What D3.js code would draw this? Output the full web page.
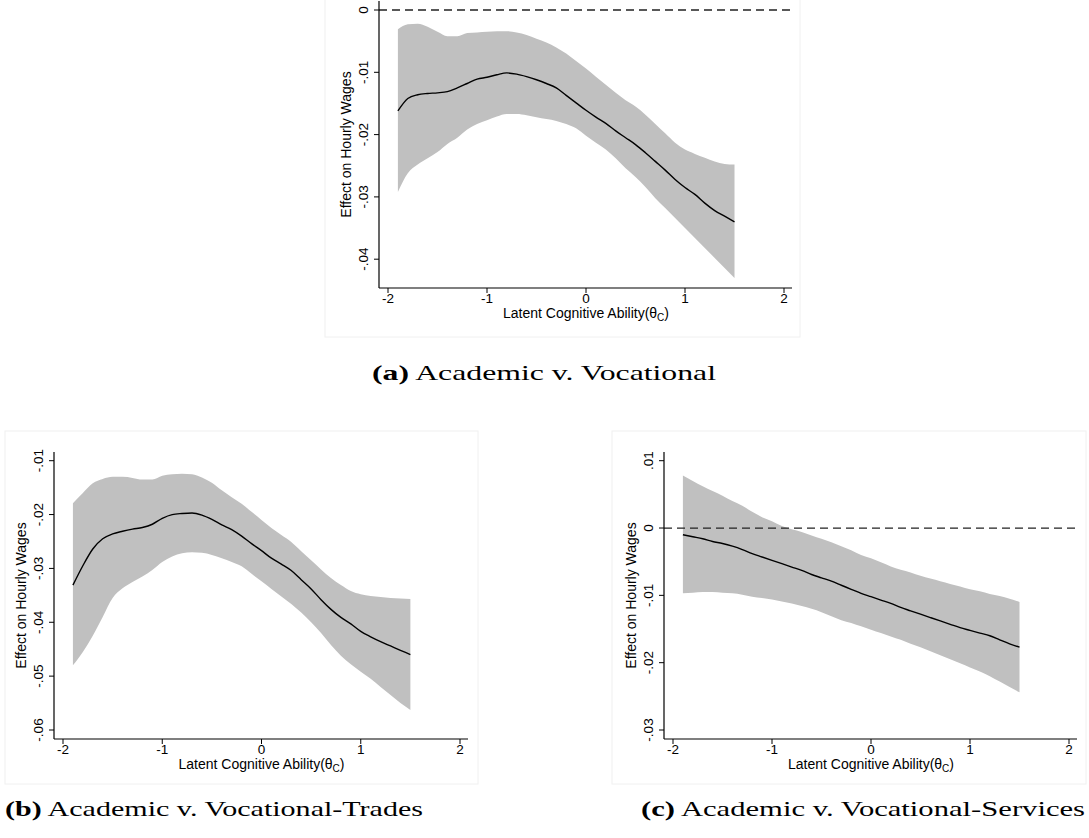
<!DOCTYPE html>
<html>
<head>
<meta charset="utf-8">
<script src="https://cdn.jsdelivr.net/npm/d3@7"></script>
<style>
  html, body { margin: 0; padding: 0; background: #fff; }
  svg { display: block; }
  .tick-label, .axis-title { font-family: "Liberation Sans", Arial, sans-serif; fill: #000; }
  .caption { font-family: "Liberation Serif", "DejaVu Serif", serif; fill: #000; }
</style>
</head>
<body>
<svg id="fig" width="1089" height="838"></svg>
<script>
// Ability grid shared by all three panels
const theta = [-1.9,-1.8,-1.7,-1.6,-1.5,-1.4,-1.3,-1.2,-1.1,-1.0,-0.9,-0.8,-0.7,-0.6,-0.5,-0.4,-0.3,-0.2,-0.1,
  0.0,0.1,0.2,0.3,0.4,0.5,0.6,0.7,0.8,0.9,1.0,1.1,1.2,1.3,1.4,1.5];

// (a) Academic v. Vocational
const effectA = [-0.0162,-0.0142,-0.0136,-0.0134,-0.0133,-0.0131,-0.0125,-0.0118,-0.0111,-0.0108,-0.0104,-0.0101,-0.0103,-0.0107,-0.0112,-0.0118,-0.0125,-0.0137,-0.0149,
  -0.0161,-0.0172,-0.0182,-0.0194,-0.0205,-0.0216,-0.0229,-0.0243,-0.0257,-0.0272,-0.0285,-0.0296,-0.0310,-0.0322,-0.0331,-0.0340];
const lowerA = [-0.0292,-0.0262,-0.0248,-0.0238,-0.0228,-0.0215,-0.0205,-0.0192,-0.0183,-0.0177,-0.0171,-0.0167,-0.0167,-0.0169,-0.0172,-0.0175,-0.0178,-0.0183,-0.0190,
  -0.0202,-0.0213,-0.0224,-0.0238,-0.0254,-0.0268,-0.0284,-0.0302,-0.0318,-0.0334,-0.0350,-0.0366,-0.0382,-0.0398,-0.0414,-0.0430];
const upperA = [-0.0031,-0.0023,-0.0022,-0.0027,-0.0035,-0.0042,-0.0042,-0.0037,-0.0036,-0.0035,-0.0034,-0.0034,-0.0036,-0.0040,-0.0046,-0.0052,-0.0060,-0.0070,-0.0082,
  -0.0094,-0.0107,-0.0120,-0.0133,-0.0145,-0.0155,-0.0168,-0.0183,-0.0198,-0.0213,-0.0224,-0.0231,-0.0237,-0.0243,-0.0247,-0.0248];

// (b) Academic v. Vocational-Trades
const effectB = [-0.0331,-0.0295,-0.0264,-0.0245,-0.0236,-0.0231,-0.0227,-0.0224,-0.0218,-0.0207,-0.0200,-0.0198,-0.0197,-0.0201,-0.0209,-0.0219,-0.0228,-0.0240,-0.0254,
  -0.0267,-0.0281,-0.0292,-0.0304,-0.0321,-0.0338,-0.0358,-0.0376,-0.0391,-0.0403,-0.0417,-0.0427,-0.0436,-0.0444,-0.0452,-0.0460];
const lowerB = [-0.0480,-0.0455,-0.0425,-0.0390,-0.0355,-0.0337,-0.0325,-0.0315,-0.0303,-0.0288,-0.0278,-0.0272,-0.0270,-0.0271,-0.0275,-0.0281,-0.0288,-0.0296,-0.0310,
  -0.0324,-0.0338,-0.0352,-0.0366,-0.0382,-0.0400,-0.0420,-0.0442,-0.0462,-0.0478,-0.0492,-0.0505,-0.0520,-0.0535,-0.0550,-0.0563];
const upperB = [-0.0179,-0.0160,-0.0142,-0.0134,-0.0130,-0.0130,-0.0132,-0.0135,-0.0135,-0.0128,-0.0125,-0.0124,-0.0125,-0.0131,-0.0141,-0.0155,-0.0168,-0.0180,-0.0195,
  -0.0210,-0.0225,-0.0238,-0.0251,-0.0268,-0.0285,-0.0302,-0.0318,-0.0331,-0.0342,-0.0348,-0.0351,-0.0353,-0.0355,-0.0356,-0.0357];

// (c) Academic v. Vocational-Services
const effectC = [-0.0010,-0.0013,-0.0016,-0.0020,-0.0023,-0.0027,-0.0032,-0.0038,-0.0043,-0.0048,-0.0053,-0.0058,-0.0063,-0.0069,-0.0074,-0.0079,-0.0085,-0.0091,-0.0097,
  -0.0102,-0.0107,-0.0112,-0.0118,-0.0123,-0.0128,-0.0133,-0.0138,-0.0143,-0.0148,-0.0152,-0.0156,-0.0160,-0.0166,-0.0172,-0.0177];
const lowerC = [-0.0097,-0.0096,-0.0095,-0.0095,-0.0096,-0.0097,-0.0099,-0.0102,-0.0104,-0.0106,-0.0109,-0.0112,-0.0116,-0.0120,-0.0125,-0.0131,-0.0137,-0.0141,-0.0146,
  -0.0151,-0.0156,-0.0161,-0.0166,-0.0172,-0.0177,-0.0183,-0.0189,-0.0195,-0.0201,-0.0207,-0.0213,-0.0220,-0.0228,-0.0236,-0.0244];
const upperC = [0.0078,0.0070,0.0062,0.0055,0.0048,0.0040,0.0033,0.0024,0.0016,0.0010,0.0003,-0.0002,-0.0006,-0.0011,-0.0016,-0.0021,-0.0027,-0.0033,-0.0040,
  -0.0045,-0.0051,-0.0057,-0.0062,-0.0066,-0.0071,-0.0075,-0.0079,-0.0083,-0.0087,-0.0091,-0.0094,-0.0098,-0.0101,-0.0105,-0.0110];

// Tick values and labels
const xTicks = [-2, -1, 0, 1, 2];
const yTicksA = [0, -0.01, -0.02, -0.03, -0.04];
const yLabelsA = ["0", "-.01", "-.02", "-.03", "-.04"];
const yTicksB = [-0.01, -0.02, -0.03, -0.04, -0.05, -0.06];
const yLabelsB = ["-.01", "-.02", "-.03", "-.04", "-.05", "-.06"];
const yTicksC = [0.01, 0, -0.01, -0.02, -0.03];
const yLabelsC = [".01", "0", "-.01", "-.02", "-.03"];

const xTitle = "Latent Cognitive Ability(θ";
const yTitle = "Effect on Hourly Wages";

// Panel frames (pixel placement of each sub-graph)
const panels = [
  { effect: effectA, lower: lowerA, upper: upperA, yTicks: yTicksA, yLabels: yLabelsA,
    axisX: 379, axisY: 288, axisTop: 1, axisRight: 792,
    xMin: 388, xMax: 784, yFirst: 10, yLast: 259.2, zeroLine: true,
    box: [325, -2, 800, 337],
    tag: "(a)", caption: " Academic v. Vocational", capX: 544, capY: 380, capW: 344 },
  { effect: effectB, lower: lowerB, upper: upperB, yTicks: yTicksB, yLabels: yLabelsB,
    axisX: 54, axisY: 739, axisTop: 452, axisRight: 468,
    xMin: 63, xMax: 460, yFirst: 460.7, yLast: 730, zeroLine: false,
    box: [5, 431, 478, 784],
    tag: "(b)", caption: " Academic v. Vocational-Trades", capX: 214, capY: 816, capW: 418 },
  { effect: effectC, lower: lowerC, upper: upperC, yTicks: yTicksC, yLabels: yLabelsC,
    axisX: 664, axisY: 739, axisTop: 452, axisRight: 1077,
    xMin: 673, xMax: 1069, yFirst: 460.7, yLast: 730, zeroLine: true,
    box: [612, 431, 1086, 784],
    tag: "(c)", caption: " Academic v. Vocational-Services", capX: 863, capY: 816, capW: 444 }
];

const svg = d3.select("#fig");

panels.forEach(p => {
  const g = svg.append("g");
  const x = d3.scaleLinear().domain([-2, 2]).range([p.xMin, p.xMax]);
  const y = d3.scaleLinear()
    .domain([p.yTicks[0], p.yTicks[p.yTicks.length - 1]])
    .range([p.yFirst, p.yLast]);

  // faint outer frame of the sub-graph
  g.append("rect")
    .attr("x", p.box[0]).attr("y", p.box[1])
    .attr("width", p.box[2] - p.box[0]).attr("height", p.box[3] - p.box[1])
    .attr("fill", "none").attr("stroke", "#f0f0f0").attr("stroke-width", 1);

  const rows = theta.map((t, i) => ({ t, e: p.effect[i], lo: p.lower[i], hi: p.upper[i] }));

  // confidence band
  g.append("path")
    .datum(rows)
    .attr("fill", "#c0c0c0")
    .attr("d", d3.area().x(d => x(d.t)).y0(d => y(d.lo)).y1(d => y(d.hi)).curve(d3.curveMonotoneX));

  // zero reference line
  if (p.zeroLine) {
    g.append("line")
      .attr("x1", p.axisX).attr("x2", p.axisRight)
      .attr("y1", y(0)).attr("y2", y(0))
      .attr("stroke", "#222").attr("stroke-width", 1.3)
      .attr("stroke-dasharray", "8,5");
  }

  // point estimate
  g.append("path")
    .datum(rows)
    .attr("fill", "none").attr("stroke", "#000").attr("stroke-width", 1.4)
    .attr("d", d3.line().x(d => x(d.t)).y(d => y(d.e)).curve(d3.curveMonotoneX));

  // x axis
  g.append("line")
    .attr("x1", p.axisX).attr("x2", p.axisRight)
    .attr("y1", p.axisY).attr("y2", p.axisY)
    .attr("stroke", "#000").attr("stroke-width", 1.2);
  const xt = g.selectAll(".xt").data(xTicks).enter().append("g");
  xt.append("line")
    .attr("x1", d => x(d)).attr("x2", d => x(d))
    .attr("y1", p.axisY).attr("y2", p.axisY + 5)
    .attr("stroke", "#000").attr("stroke-width", 1);
  xt.append("text")
    .attr("class", "tick-label")
    .attr("x", d => x(d)).attr("y", p.axisY + 15)
    .attr("text-anchor", "middle").attr("font-size", 13.5)
    .text(d => d3.format("d")(d).replace("−", "-"));

  const xt2 = g.append("text")
    .attr("class", "axis-title")
    .attr("x", x(0)).attr("y", p.axisY + 30)
    .attr("text-anchor", "middle").attr("font-size", 14);
  xt2.append("tspan").text(xTitle);
  xt2.append("tspan").attr("font-size", 10).attr("dy", 3).text("C");
  xt2.append("tspan").attr("dy", -3).text(")");

  // y axis
  g.append("line")
    .attr("x1", p.axisX).attr("x2", p.axisX)
    .attr("y1", p.axisTop).attr("y2", p.axisY)
    .attr("stroke", "#000").attr("stroke-width", 1.2);
  const yt = g.selectAll(".yt").data(p.yTicks).enter().append("g");
  yt.append("line")
    .attr("x1", p.axisX - 5).attr("x2", p.axisX)
    .attr("y1", d => y(d)).attr("y2", d => y(d))
    .attr("stroke", "#000").attr("stroke-width", 1);
  yt.append("text")
    .attr("class", "tick-label")
    .attr("transform", d => `translate(${p.axisX - 11},${y(d)}) rotate(-90)`)
    .attr("text-anchor", "middle").attr("font-size", 13.5)
    .text((d, i) => p.yLabels[i]);

  g.append("text")
    .attr("class", "axis-title")
    .attr("transform", `translate(${p.axisX - 28},${(p.axisTop + p.axisY) / 2}) rotate(-90)`)
    .attr("text-anchor", "middle").attr("font-size", 14)
    .text(yTitle);

  // caption
  const cap = g.append("text")
    .attr("class", "caption")
    .attr("x", p.capX).attr("y", p.capY)
    .attr("text-anchor", "middle").attr("font-size", 21)
    .attr("textLength", p.capW).attr("lengthAdjust", "spacingAndGlyphs");
  cap.append("tspan").attr("font-weight", "bold").text(p.tag);
  cap.append("tspan").text(p.caption);
});
</script>
</body>
</html>
